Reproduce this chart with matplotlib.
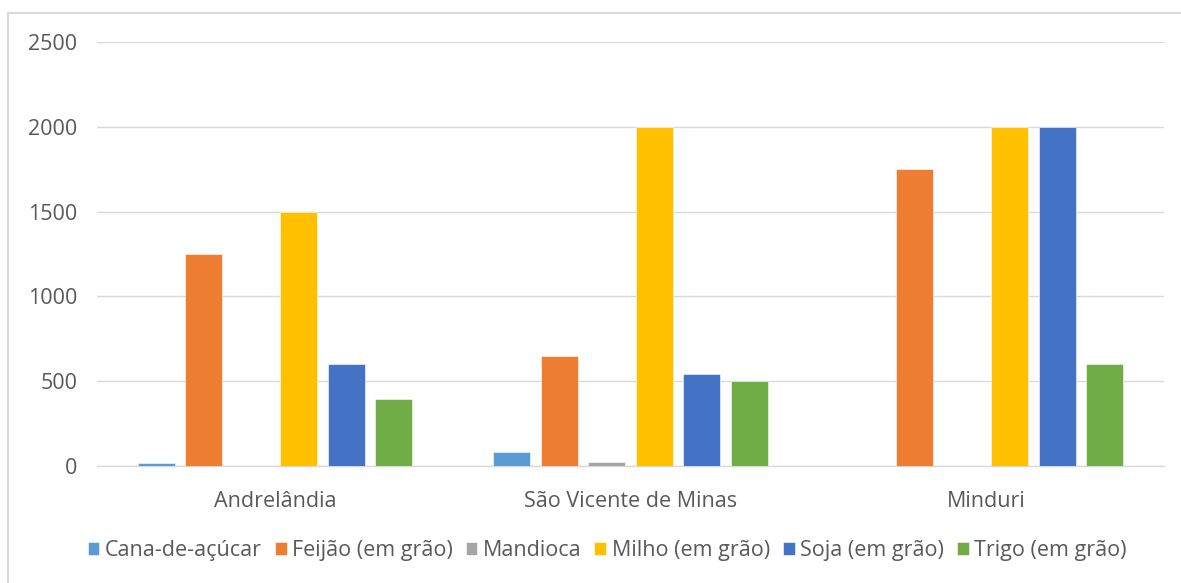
import numpy as np
import matplotlib
matplotlib.use("Agg")
from matplotlib import pyplot as plt
from matplotlib.patches import Rectangle

plt.rcParams['font.family'] = ['Open Sans', 'DejaVu Sans']

municipios = ['Andrelândia', 'São Vicente de Minas', 'Minduri']
culturas = ['Cana-de-açúcar', 'Feijão (em grão)', 'Mandioca',
            'Milho (em grão)', 'Soja (em grão)', 'Trigo (em grão)']
cana = [18, 82, 0]
feijao = [1250, 650, 1750]
mandioca = [0, 22, 0]
milho = [1500, 2000, 2000]
soja = [600, 540, 2000]
trigo = [395, 500, 600]
cores = ['#5B9BD5', '#ED7D31', '#A5A5A5', '#FFC000', '#4472C4', '#70AD47']
yticks = [0, 500, 1000, 1500, 2000, 2500]

series = [cana, feijao, mandioca, milho, soja, trigo]
W, H = 1181, 583
fig = plt.figure(figsize=(W / 100, H / 100), dpi=100)
ax = fig.add_axes([97 / W, (H - 466) / H, (1164 - 97) / W, (466 - 42) / H])

# chart frame
fig.patches.append(Rectangle((8 / W, -0.05), 1.1, (H - 13) / H + 0.05,
                             transform=fig.transFigure, fill=False,
                             edgecolor='#d9d9d9', linewidth=1.5))

x = np.arange(len(municipios))
step = 0.1335
width = 0.104
for i, (vals, nome, cor) in enumerate(zip(series, culturas, cores)):
    ax.bar(x + (i - 2.5) * step, vals, width, color=cor, label=nome,
           edgecolor='white', linewidth=0.4, zorder=3)

ax.set_xlim(-0.5, 2.5)
ax.set_ylim(0, 2500)
ax.set_yticks(yticks)
ax.set_xticks(x)
ax.set_xticklabels(municipios)
ax.grid(axis='y', color='#d9d9d9', linewidth=1, zorder=0)
for s in ['top', 'right', 'left']:
    ax.spines[s].set_visible(False)
ax.spines['bottom'].set_color('#d9d9d9')
ax.spines['bottom'].set_linewidth(1)
ax.tick_params(axis='both', length=0, labelsize=15.5, labelcolor='#595959')
ax.tick_params(axis='y', pad=14)
ax.tick_params(axis='x', pad=18)

ax.legend(loc='center', bbox_to_anchor=(0.478, -0.2), ncol=6, frameon=False,
          fontsize=15.5, labelcolor='#595959', handlelength=0.55, handleheight=0.55,
          handletextpad=0.25, columnspacing=0.6)

fig.savefig('out.png', dpi=100)
